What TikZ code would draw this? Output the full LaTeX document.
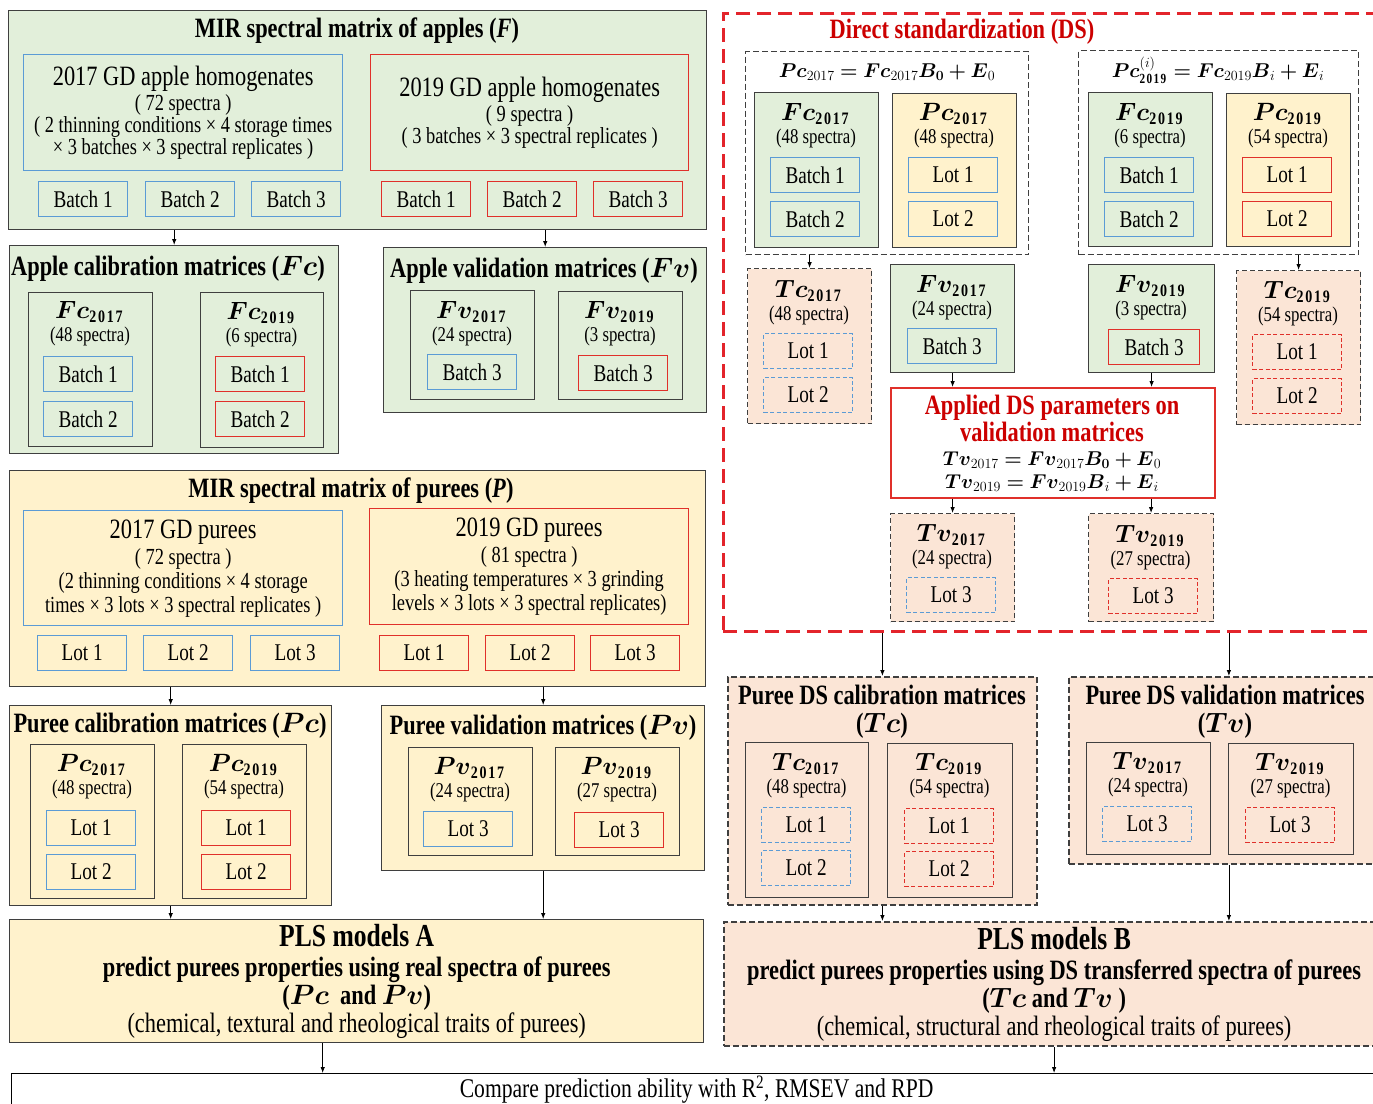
\RequirePackage{fix-cm}
\documentclass[tikz,border=0pt]{standalone}
\usepackage{amsmath}
\usepackage{fontspec}
\setmainfont{Liberation Serif}[FakeStretch=0.8]
\usetikzlibrary{arrows.meta,positioning,calc}
\definecolor{applegreen}{HTML}{E2EFDA}
\definecolor{pureeyellow}{HTML}{FFF2CC}
\definecolor{dspeach}{HTML}{FBE5D6}
\definecolor{lotblue}{HTML}{5B9BD5}
\definecolor{lotred}{HTML}{E0302A}
\definecolor{dsred}{HTML}{E3242B}
\definecolor{titlered}{HTML}{CC0000}
\definecolor{edgegray}{HTML}{3F3F3F}

\tikzset{
  grp/.style={draw=edgegray, line width=1.4pt, anchor=north west, inner sep=0pt},
  greengrp/.style={grp, fill=applegreen},
  yellowgrp/.style={grp, fill=pureeyellow},
  peachgrp/.style={grp, fill=dspeach, dash pattern=on 6pt off 3pt},
  dsgroup/.style={grp, dash pattern=on 6pt off 3pt},
  matbox/.style={draw=edgegray, line width=1.2pt, anchor=north west, inner sep=0pt},
  greenmat/.style={matbox, fill=applegreen},
  yellowmat/.style={matbox, fill=pureeyellow},
  peachmat/.style={matbox, fill=dspeach, dash pattern=on 5pt off 3pt},
  unitbox/.style={line width=1.2pt, anchor=north west, minimum width=89, minimum height=35,
    inner sep=0pt, font=\fontsize{24}{24}\selectfont},
  bunit/.style={unitbox, draw=lotblue},
  runit/.style={unitbox, draw=lotred},
  bdunit/.style={bunit, dash pattern=on 4pt off 2.5pt},
  rdunit/.style={runit, dash pattern=on 4pt off 2.5pt},
  ttl/.style={font=\fontsize{28}{28}\selectfont\bfseries, inner sep=0pt},
  yearbox/.style={line width=1.3pt, anchor=north west, inner sep=0pt, align=center,
    font=\fontsize{23}{22}\selectfont},
  mhead/.style={font=\fontsize{25}{25}\selectfont, inner sep=0pt},
  spec/.style={font=\fontsize{21}{21}\selectfont, inner sep=0pt},
  eqn/.style={font=\fontsize{20}{20}\selectfont, inner sep=0pt},
  arr/.style={-{Latex[length=6pt,width=4.5pt]}, line width=0.8pt, draw=black}
}
% header + spectra count of one matrix
\newcommand{\matcap}[6]{%
  \node[mhead] (#1h) at (#2,#3) {$\boldsymbol{#4}_{\mathbf{#5}}$};
  \node[spec] (#1s) at (#2,#3+24) {(#6 spectra)};}

\begin{document}
\begin{tikzpicture}[x=1pt,y=-1pt]
\useasboundingbox (0,0) rectangle (1373,1103);

% ---- apples
\node[greengrp, minimum width=698, minimum height=219] (Fmat) at (8,10) {};
\node[ttl] (Ftitle) at (357,31) {MIR spectral matrix of apples (\textit{F})};
\node[yearbox, draw=lotblue, minimum width=319, minimum height=116] (F17) at (23,54)
  {{\fontsize{28}{28}\selectfont 2017 GD apple homogenates}\\[2pt]( 72 spectra )\\
   ( 2 thinning conditions × 4 storage times\\× 3 batches × 3 spectral replicates )};
\node[yearbox, draw=lotred, minimum width=318, minimum height=116] (F19) at (370,54)
  {{\fontsize{28}{28}\selectfont 2019 GD apple homogenates}\\[2pt]( 9 spectra )\\
   ( 3 batches × 3 spectral replicates )};
\foreach \n/\x in {1/38,2/145,3/251}
  \node[bunit] (F17u\n) at (\x,181) {Batch \n};
\foreach \n/\x in {1/381,2/487,3/593}
  \node[runit] (F19u\n) at (\x,181) {Batch \n};

\node[greengrp, minimum width=329, minimum height=208] (Fc) at (9,245) {};
\node[ttl] (Fctitle) at (168,269) {Apple calibration matrices ($\boldsymbol{Fc}$)};
\node[matbox, minimum width=124, minimum height=154] (Fc17) at (28,292) {};
\node[matbox, minimum width=123, minimum height=155] (Fc19) at (200,292) {};
\matcap{Fc17}{90}{312}{Fc}{2017}{48}
\matcap{Fc19}{261.5}{313}{Fc}{2019}{6}
\foreach \n/\y in {1/356,2/401} {
  \node[bunit] (Fc17u\n) at (43,\y) {Batch \n};
  \node[runit] (Fc19u\n) at (215,\y) {Batch \n};
}

\node[greengrp, minimum width=323, minimum height=165] (Fv) at (383,247) {};
\node[ttl] (Fvtitle) at (544,271) {Apple validation matrices ($\boldsymbol{Fv}$)};
\node[matbox, minimum width=124, minimum height=109] (Fv17) at (410,290) {};
\node[matbox, minimum width=124, minimum height=108] (Fv19) at (558,291) {};
\matcap{Fv17}{472}{312}{Fv}{2017}{24}
\matcap{Fv19}{620}{312}{Fv}{2019}{3}
\node[bunit] (Fv17u) at (427,354) {Batch 3};
\node[runit] (Fv19u) at (578,355) {Batch 3};

% ---- purees
\node[yellowgrp, minimum width=696, minimum height=216] (Pmat) at (9,470) {};
\node[ttl] (Ptitle) at (351,491) {MIR spectral matrix of purees (\textit{P})};
\node[yearbox, draw=lotblue, minimum width=319, minimum height=115,
  font=\fontsize{23}{24}\selectfont] (P17) at (23,510)
  {{\fontsize{28}{28}\selectfont 2017 GD purees}\\[2pt]( 72 spectra )\\
   (2 thinning conditions × 4 storage\\times × 3 lots × 3 spectral replicates )};
\node[yearbox, draw=lotred, minimum width=319, minimum height=116,
  font=\fontsize{23}{24}\selectfont] (P19) at (369,508)
  {{\fontsize{28}{28}\selectfont 2019 GD purees}\\[2pt]( 81 spectra )\\
   (3 heating temperatures × 3 grinding\\levels × 3 lots × 3 spectral replicates)};
\foreach \n/\x in {1/37,2/143,3/250}
  \node[bunit] (P17u\n) at (\x,635) {Lot \n};
\foreach \n/\x in {1/379,2/485,3/590}
  \node[runit] (P19u\n) at (\x,635) {Lot \n};

\node[yellowgrp, minimum width=322, minimum height=200] (Pc) at (9,705) {};
\node[ttl] (Pctitle) at (170,726) {Puree calibration matrices ($\boldsymbol{Pc}$)};
\node[matbox, minimum width=124, minimum height=154] (Pc17) at (30,744) {};
\node[matbox, minimum width=124, minimum height=154] (Pc19) at (182,744) {};
\matcap{Pc17}{92}{765}{Pc}{2017}{48}
\matcap{Pc19}{244}{765}{Pc}{2019}{54}
\foreach \n/\y in {1/810,2/854} {
  \node[bunit] (Pc17u\n) at (46,\y) {Lot \n};
  \node[runit] (Pc19u\n) at (201,\y) {Lot \n};
}

\node[yellowgrp, minimum width=323, minimum height=165] (Pv) at (381,705) {};
\node[ttl] (Pvtitle) at (543,728) {Puree validation matrices ($\boldsymbol{Pv}$)};
\node[matbox, minimum width=124, minimum height=108] (Pv17) at (408,747) {};
\node[matbox, minimum width=124, minimum height=108] (Pv19) at (555,747) {};
\matcap{Pv17}{470}{768}{Pv}{2017}{24}
\matcap{Pv19}{617}{768}{Pv}{2019}{27}
\node[bunit] (Pv17u) at (423,811) {Lot 3};
\node[runit] (Pv19u) at (574,812) {Lot 3};

% ---- direct standardization
\node[draw=dsred, line width=2.5pt, dash pattern=on 14pt off 7pt, anchor=north west,
  inner sep=0pt, minimum width=660, minimum height=618] (ds) at (722,12) {};
\node[ttl, text=titlered] (dstitle) at (962,32) {Direct standardization (DS)};

\node[dsgroup, minimum width=283, minimum height=203] (dsA) at (745,51) {};
\node[eqn] (dsAeq) at (887,72)
  {$\boldsymbol{Pc}_{2017} \boldsymbol{=} \boldsymbol{Fc}_{2017}\boldsymbol{B_0} \boldsymbol{+} \boldsymbol{E}_0$};
\node[greenmat, minimum width=124, minimum height=155] (Fc17b) at (754,92) {};
\node[yellowmat, minimum width=124, minimum height=154] (Pc17b) at (892,93) {};
\matcap{Fc17b}{816}{114}{Fc}{2017}{48}
\matcap{Pc17b}{954}{114}{Pc}{2017}{48}
\foreach \n/\y in {1/157,2/201} {
  \node[bunit] (Fc17bu\n) at (770,\y) {Batch \n};
  \node[bunit] (Pc17bu\n) at (908,\y) {Lot \n};
}

\node[dsgroup, minimum width=280, minimum height=204] (dsB) at (1078,50) {};
\node[eqn] (dsBeq) at (1218,70)
  {$\boldsymbol{Pc}^{(i)}_{\mathbf{2019}} \boldsymbol{=} \boldsymbol{Fc}_{2019}\boldsymbol{B}_i \boldsymbol{+} \boldsymbol{E}_i$};
\node[greenmat, minimum width=124, minimum height=154] (Fc19b) at (1088,92) {};
\node[yellowmat, minimum width=124, minimum height=153] (Pc19b) at (1226,93) {};
\matcap{Fc19b}{1150}{114}{Fc}{2019}{6}
\matcap{Pc19b}{1288}{114}{Pc}{2019}{54}
\foreach \n/\y in {1/157,2/201} {
  \node[bunit] (Fc19bu\n) at (1104,\y) {Batch \n};
  \node[runit] (Pc19bu\n) at (1242,\y) {Lot \n};
}

\node[peachmat, minimum width=124, minimum height=155] (Tc17a) at (747,268) {};
\matcap{Tc17a}{809}{291}{Tc}{2017}{48}
\foreach \n/\y in {1/333,2/377}
  \node[bdunit] (Tc17au\n) at (763,\y) {Lot \n};

\node[greenmat, minimum width=124, minimum height=108] (Fv17b) at (890,264) {};
\matcap{Fv17b}{952}{286}{Fv}{2017}{24}
\node[bunit] (Fv17bu) at (907,328) {Batch 3};

\node[greenmat, minimum width=126, minimum height=108] (Fv19b) at (1088,264) {};
\matcap{Fv19b}{1151}{286}{Fv}{2019}{3}
\node[runit, minimum width=91] (Fv19bu) at (1108,329) {Batch 3};

\node[peachmat, minimum width=124, minimum height=154] (Tc19a) at (1236,270) {};
\matcap{Tc19a}{1298}{292}{Tc}{2019}{54}
\foreach \n/\y in {1/334,2/378}
  \node[rdunit] (Tc19au\n) at (1252,\y) {Lot \n};

\node[draw=lotred, fill=white, line width=1.5pt, anchor=north west, inner sep=0pt,
  minimum width=324, minimum height=110] (appl) at (890,387) {};
\node[ttl, text=titlered, align=center, font=\fontsize{28}{27}\selectfont\bfseries]
  (appltitle) at (1052,418) {Applied DS parameters on\\validation matrices};
\node[eqn] (applE1) at (1052,460)
  {$\boldsymbol{Tv}_{2017} \boldsymbol{=} \boldsymbol{Fv}_{2017}\boldsymbol{B_0} \boldsymbol{+} \boldsymbol{E}_0$};
\node[eqn] (applE2) at (1052,483)
  {$\boldsymbol{Tv}_{2019} \boldsymbol{=} \boldsymbol{Fv}_{2019}\boldsymbol{B}_i \boldsymbol{+} \boldsymbol{E}_i$};

\node[peachmat, minimum width=124, minimum height=108] (Tv17a) at (890,513) {};
\matcap{Tv17a}{952}{535}{Tv}{2017}{24}
\node[bdunit] (Tv17au) at (906,577) {Lot 3};
\node[peachmat, minimum width=125, minimum height=108] (Tv19a) at (1088,513) {};
\matcap{Tv19a}{1150.5}{536}{Tv}{2019}{27}
\node[rdunit] (Tv19au) at (1108,578) {Lot 3};

% ---- transferred puree matrices
\node[peachgrp, line width=1.8pt, minimum width=309, minimum height=228] (Tc) at (727,676) {};
\node[ttl, align=center, font=\fontsize{28}{28}\selectfont\bfseries] (Tctitle) at (882,712)
  {Puree DS calibration matrices\\($\boldsymbol{Tc}$)};
\node[matbox, minimum width=123, minimum height=155] (Tc17) at (745,742) {};
\node[matbox, minimum width=125, minimum height=154] (Tc19) at (887,743) {};
\matcap{Tc17}{806.5}{764}{Tc}{2017}{48}
\matcap{Tc19}{949.5}{764}{Tc}{2019}{54}
\foreach \n/\y in {1/807,2/850} {
  \node[bdunit] (Tc17u\n) at (761,\y) {Lot \n};
  \node[rdunit] (Tc19u\n) at (904,\y+1) {Lot \n};
}

\node[peachgrp, line width=1.8pt, minimum width=320, minimum height=187] (Tv) at (1068,676) {};
\node[ttl, align=center, font=\fontsize{28}{28}\selectfont\bfseries] (Tvtitle) at (1225,712)
  {Puree DS validation matrices\\($\boldsymbol{Tv}$)};
\node[matbox, minimum width=124, minimum height=112] (Tv17) at (1086,742) {};
\node[matbox, minimum width=125, minimum height=111] (Tv19) at (1228,743) {};
\matcap{Tv17}{1148}{763}{Tv}{2017}{24}
\matcap{Tv19}{1290.5}{764}{Tv}{2019}{27}
\node[bdunit] (Tv17u) at (1102,806) {Lot 3};
\node[rdunit] (Tv19u) at (1245,807) {Lot 3};

% ---- models
\node[yellowgrp, minimum width=694, minimum height=123, align=center,
  font=\fontsize{28}{28}\selectfont] (plsA) at (9,919)
  {{\fontsize{32}{32}\selectfont\bfseries PLS models A}\\[2pt]
   {\bfseries predict purees properties using real spectra of purees}\\
   {\bfseries ($\boldsymbol{Pc}$\ \ and $\boldsymbol{Pv}$)}\\
   (chemical, textural and rheological traits of purees)};
\node[peachgrp, line width=2.2pt, minimum width=660, minimum height=124, align=center,
  font=\fontsize{28}{28}\selectfont] (plsB) at (723,921)
  {{\fontsize{32}{32}\selectfont\bfseries PLS models B}\\[2pt]
   {\bfseries predict purees properties using DS transferred spectra of purees}\\
   {\bfseries ($\boldsymbol{Tc}$ and $\boldsymbol{Tv}$\ )}\\
   (chemical, structural and rheological traits of purees)};
\node[draw=black, line width=1.3pt, anchor=north west, inner sep=0pt, minimum width=1370,
  minimum height=32, font=\fontsize{27}{27}\selectfont] (cmp) at (11,1073)
  {Compare prediction ability with R\textsuperscript{2}, RMSEV and RPD};

% ---- connectors
\draw[arr] (Fmat.south -| Fc.north) -- (Fc.north);
\draw[arr] (Fmat.south -| Fv.north) -- (Fv.north);
\draw[arr] (Pmat.south -| Pc.north) -- (Pc.north);
\draw[arr] (Pmat.south -| Pv.north) -- (Pv.north);
\draw[arr] (Pc.south) -- (Pc.south |- plsA.north);
\draw[arr] (Pv.south) -- (Pv.south |- plsA.north);
\draw[arr] (dsA.south -| Tc17a.north) -- (Tc17a.north);
\draw[arr] (dsB.south -| Tc19a.north) -- (Tc19a.north);
\draw[arr] (Fv17b.south) -- (Fv17b.south |- appl.north);
\draw[arr] (Fv19b.south) -- (Fv19b.south |- appl.north);
\draw[arr] (appl.south -| Tv17a.north) -- (Tv17a.north);
\draw[arr] (appl.south -| Tv19a.north) -- (Tv19a.north);
\draw[arr] (ds.south -| Tc.north) -- (Tc.north);
\draw[arr] (ds.south -| Tv.north) -- (Tv.north);
\draw[arr] (Tc.south) -- (Tc.south |- plsB.north);
\draw[arr] (Tv.south) -- (Tv.south |- plsB.north);
\coordinate (cmpA) at ([xshift=-34pt]plsA.south);
\draw[arr] (cmpA) -- (cmpA |- cmp.north);
\draw[arr] (plsB.south) -- (plsB.south |- cmp.north);
\end{tikzpicture}
\end{document}
